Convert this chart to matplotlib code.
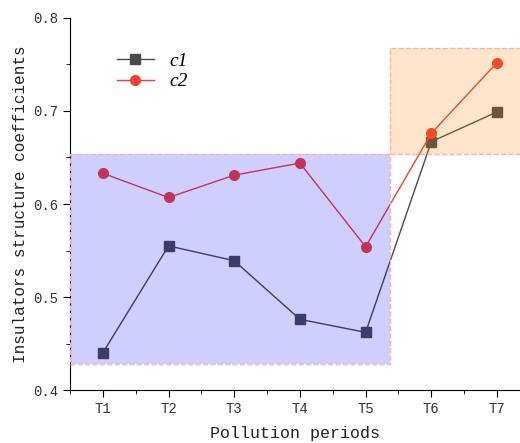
import matplotlib.pyplot as plt
from matplotlib.patches import Rectangle
from matplotlib.ticker import MultipleLocator

plt.rcParams['font.family'] = ['Liberation Mono', 'DejaVu Sans Mono']

periods = ['T1', 'T2', 'T3', 'T4', 'T5', 'T6', 'T7']
c1 = [0.440, 0.555, 0.539, 0.476, 0.462, 0.667, 0.699]
c2 = [0.633, 0.607, 0.631, 0.644, 0.554, 0.676, 0.752]

fig = plt.figure(figsize=(5.2, 4.43), dpi=100)
ax = fig.add_axes([0.1346, 0.1196, 0.8654, 0.8398])

x = list(range(1, len(periods) + 1))
ax.plot(x, c1, color='#4a4a4a', lw=1, marker='s', ms=6.5, label='c1', zorder=2)
ax.plot(x, c2, color='#f04030', lw=1, marker='o', ms=7, label='c2', zorder=2)

# highlighted regions
ax.add_patch(Rectangle((0.5, 0.428), 4.87, 0.226, facecolor='blue', alpha=0.19,
                       edgecolor='none', zorder=3))
ax.add_patch(Rectangle((0.5, 0.428), 4.87, 0.226, facecolor='none',
                       edgecolor='#ffb0a8', ls='--', lw=1, zorder=4))
ax.add_patch(Rectangle((5.37, 0.654), 2.1, 0.114, facecolor='#ff8000', alpha=0.2,
                       edgecolor='none', zorder=3))
ax.add_patch(Rectangle((5.37, 0.654), 2.1, 0.114, facecolor='none',
                       edgecolor='#ffb0a8', ls='--', lw=1, zorder=4))

ax.set_xlim(0.5, 7.35)
ax.set_ylim(0.4, 0.8)
ax.set_xticks(x)
ax.set_xticklabels(periods)
ax.xaxis.set_minor_locator(MultipleLocator(0.5))
ax.yaxis.set_major_locator(MultipleLocator(0.1))
ax.yaxis.set_minor_locator(MultipleLocator(0.05))
ax.tick_params(which='major', direction='out', length=5, labelsize=10,
               labelcolor='#333333')
ax.tick_params(which='minor', direction='out', length=3)
for s in ['top', 'right']:
    ax.spines[s].set_visible(False)

ax.set_xlabel('Pollution periods', fontsize=12, labelpad=7, color='#222222')
ax.set_ylabel('Insulators structure coefficients', fontsize=11.5, labelpad=4,
              color='#222222')

leg = ax.legend(loc='upper left', bbox_to_anchor=(0.065, 0.955), frameon=False,
                fontsize=14, handlelength=1.9, labelspacing=0.15)
for t in leg.get_texts():
    t.set_fontstyle('italic')
    t.set_family('Liberation Serif')

fig.savefig('out.png', dpi=100, facecolor='white')
